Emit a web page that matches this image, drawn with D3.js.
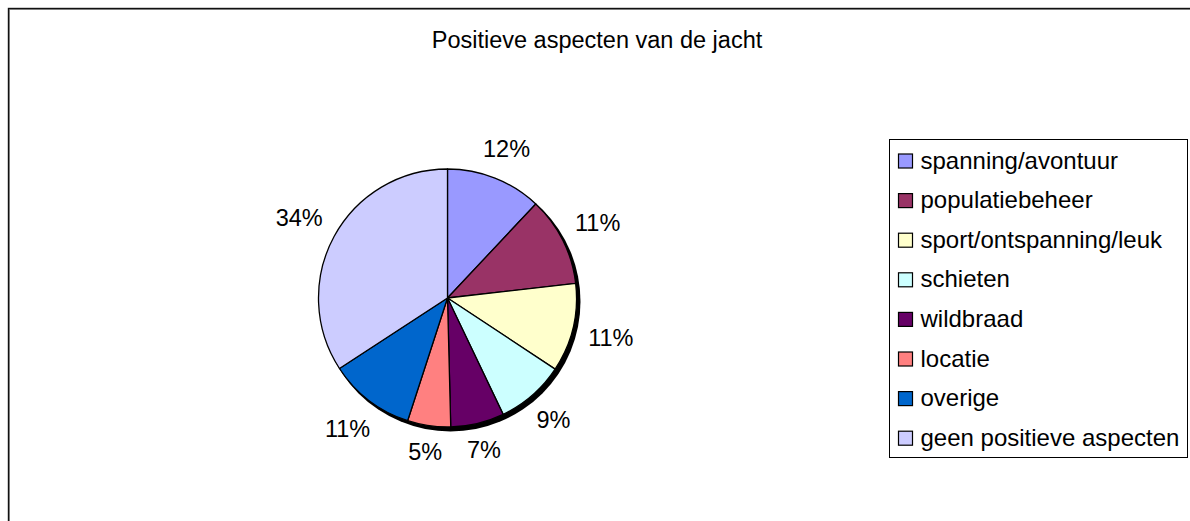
<!DOCTYPE html>
<html>
<head>
<meta charset="utf-8">
<script src="https://cdn.jsdelivr.net/npm/d3@7"></script>
<style>
  html, body { margin: 0; padding: 0; background: #fff; }
  svg { display: block; }
  text { font-family: "Liberation Sans", Arial, sans-serif; fill: #000; }
</style>
</head>
<body>
<script>
// Positieve aspecten van de jacht - pie chart
const categories = ["spanning/avontuur", "populatiebeheer", "sport/ontspanning/leuk", "schieten",
                    "wildbraad", "locatie", "overige", "geen positieve aspecten"]
const values = [12.0, 11.2, 11.1, 8.6, 6.7, 5.4, 10.8, 34.2]
const colors = ["#9999FF", "#993366", "#FFFFCC", "#CCFFFF", "#660066", "#FF8080", "#0066CC", "#CCCCFF"]
const title = "Positieve aspecten van de jacht"

const w = 1190, h = 521
const cx = 447.5, cy = 298, r = 129
const fontSize = 23.5

const svg = d3.select("body").append("svg")
    .attr("width", w)
    .attr("height", h)

// chart area border (runs off the right and bottom of the picture)
svg.append("rect")
    .attr("x", 9.5).attr("y", 9.5)
    .attr("width", 1300).attr("height", 700)
    .attr("fill", "none").attr("stroke", "#999").attr("stroke-width", 1)
svg.append("rect")
    .attr("x", 8.5).attr("y", 8.5)
    .attr("width", 1300).attr("height", 700)
    .attr("fill", "none").attr("stroke", "#111").attr("stroke-width", 1.4)

svg.append("text")
    .attr("x", 597).attr("y", 48)
    .attr("text-anchor", "middle")
    .style("font-size", fontSize + "px")
    .text(title)

const data = categories.map((c, i) => ({name: c, value: values[i], color: colors[i]}))
const total = d3.sum(values)

const pie = d3.pie().sort(null).value(d => d.value)
const arcs = pie(data)
const arc = d3.arc().innerRadius(0).outerRadius(r)

const g = svg.append("g").attr("transform", `translate(${cx},${cy})`)

// shadow
g.append("circle")
    .attr("cx", 3).attr("cy", 3.5).attr("r", r + 1)
    .attr("fill", "#000")

g.selectAll("path.slice")
    .data(arcs)
    .enter()
    .append("path")
    .attr("class", "slice")
    .attr("d", arc)
    .attr("fill", d => d.data.color)
    .attr("stroke", "#000")
    .attr("stroke-width", 1.3)
    .attr("stroke-linejoin", "round")

//? percentage labels outside the pie: the box sits just outside radius labelR
const labelR = 144
const pct = d3.format(".0f")
const labels = g.selectAll("text.label")
    .data(arcs)
    .enter()
    .append("text")
    .attr("class", "label")
    .attr("text-anchor", "middle")
    .attr("dy", "0.36em")
    .style("font-size", fontSize + "px")
    .text(d => pct(d.data.value / total * 100) + "%")

labels.each(function(d) {
    const a = (d.startAngle + d.endAngle) / 2
    const s = Math.sin(a), c = Math.cos(a)
    const tw = this.getComputedTextLength()
    const th = fontSize * 0.716
    const dist = labelR + tw / 2 * Math.abs(s) + th / 2 * Math.abs(c)
    d3.select(this)
      .attr("x", s * dist)
      .attr("y", -c * dist)
})

//? legend
const lx = 889.5, ly = 139.5, lw = 298, lh = 318
const rowH = 39.6
const legendFont = 24
const legend = svg.append("g")
legend.append("rect")
    .attr("x", lx).attr("y", ly)
    .attr("width", lw).attr("height", lh)
    .attr("fill", "#fff").attr("stroke", "#000").attr("stroke-width", 1)

const items = legend.selectAll("g.item")
    .data(data)
    .enter()
    .append("g")
    .attr("class", "item")
    .attr("transform", (d, i) => `translate(${lx}, ${ly + 29 + i * rowH})`)

items.append("rect")
    .attr("x", 9).attr("y", -14.5)
    .attr("width", 14).attr("height", 14)
    .attr("fill", d => d.color)
    .attr("stroke", "#000").attr("stroke-width", 1.2)

items.append("text")
    .attr("x", 31).attr("y", 0)
    .style("font-size", legendFont + "px")
    .text(d => d.name)
</script>
</body>
</html>
